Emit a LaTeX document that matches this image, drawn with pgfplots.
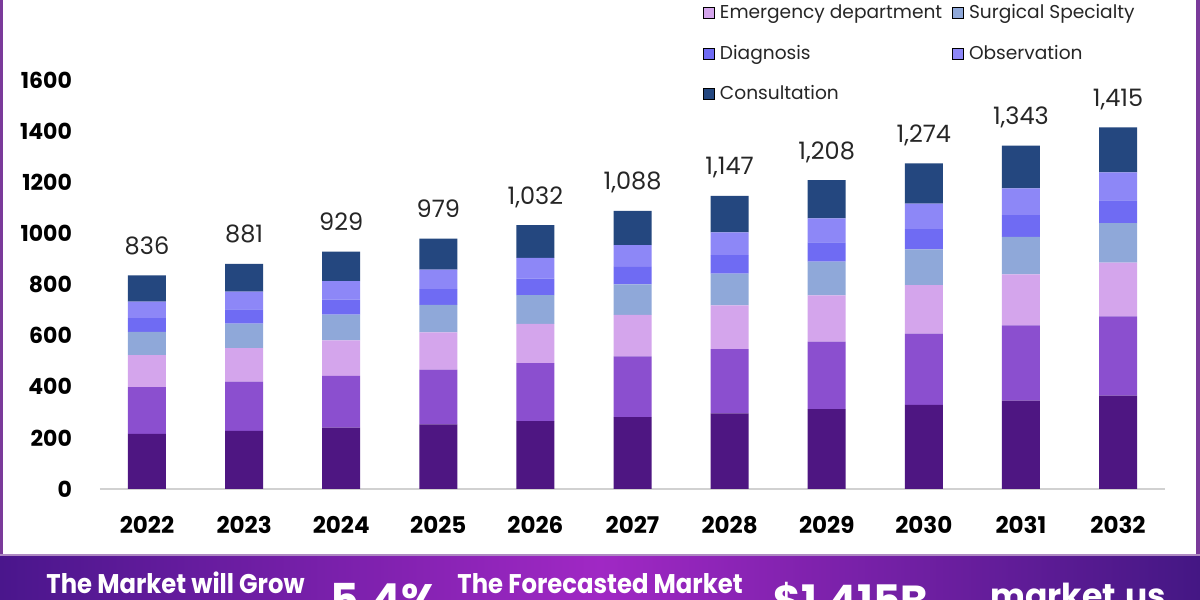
\documentclass[border=0pt]{standalone}
\usepackage{pgfplots}
\pgfplotsset{compat=1.18}
\usepackage{pgfplotstable}
\usepackage{graphicx}
\usepackage{fontspec}
\setmainfont{Poppins}

\definecolor{segA}{HTML}{4E1682}
\definecolor{segB}{HTML}{8B4FCF}
\definecolor{segC}{HTML}{D4A5EC}
\definecolor{segD}{HTML}{8FA8D9}
\definecolor{segE}{HTML}{6F6BF3}
\definecolor{segF}{HTML}{8D87F7}
\definecolor{segG}{HTML}{24477F}
\definecolor{banL}{HTML}{4A168C}
\definecolor{banM}{HTML}{A028C4}
\definecolor{banR}{HTML}{441784}
\definecolor{frameP}{HTML}{7A3A9A}

% segments bottom to top, total = value shown above bar
\pgfplotstableread{
x  a   b   c   d   e  f   g   total label
0  216 183 125 91  53 65  103 836   836
1  227 193 131 96  56 69  109 881   881
2  240 203 138 101 59 72  116 929   929
3  253 214 146 107 62 76  121 979   979
4  266 226 154 112 65 81  128 1032  1,032
5  281 238 162 119 69 85  134 1088  1,088
6  296 251 171 125 72 89  143 1147  1,147
7  312 265 180 132 76 94  149 1208  1,208
8  329 279 190 139 80 99  158 1274  1,274
9  346 294 200 146 85 105 167 1343  1,343
10 365 310 211 154 89 110 176 1415  1,415
}\data

\pgfplotsset{
  frame/.style={
    at={(50pt,55.5pt)}, anchor=south west,
    scale only axis, width=532.5pt, height=204.5pt,
    xmin=-0.484, xmax=10.484, ymin=0, ymax=1600,
    clip=false,
  },
}

\begin{document}
\begin{tikzpicture}[x=0.5pt,y=0.5pt]
\useasboundingbox (0,0) rectangle (1200,600);
\clip (0,0) rectangle (1200,600);
\fill[white] (0,0) rectangle (1200,600);

\begin{axis}[
  frame,
  ybar stacked, bar width=19pt,
  axis x line*=bottom, axis y line*=left,
  x axis line style={draw=black!18, line width=1pt},
  y axis line style={draw=none},
  major tick length=0pt,
  xtick={0,...,10},
  xticklabels={2022,2023,2024,2025,2026,2027,2028,2029,2030,2031,2032},
  ytick={0,200,...,1600},
  yticklabels={0,200,400,600,800,1000,1200,1400,1600},
  xticklabel style={font=\fontsize{11.5}{11.5}\selectfont\bfseries, yshift=-10pt},
  yticklabel style={font=\fontsize{11}{11}\selectfont\bfseries, xshift=-10.5pt},
]
\addplot[fill=segA, draw=none] table[x=x, y=a]{\data};
\addplot[fill=segB, draw=none] table[x=x, y=b]{\data};
\addplot[fill=segC, draw=none] table[x=x, y=c]{\data};
\addplot[fill=segD, draw=none] table[x=x, y=d]{\data};
\addplot[fill=segE, draw=none] table[x=x, y=e]{\data};
\addplot[fill=segF, draw=none] table[x=x, y=f]{\data};
\addplot[fill=segG, draw=none] table[x=x, y=g]{\data};
\end{axis}

% totals above the bars
\begin{axis}[frame, hide axis]
\addplot[only marks, mark=none,
  nodes near coords, point meta=explicit symbolic,
  nodes near coords style={anchor=base, yshift=10.5pt, inner sep=0pt,
    font=\fontsize{12}{12}\selectfont, text=black!85}]
  table[x=x, y=total, meta=label]{\data};
\end{axis}

% legend
\begin{axis}[
  frame, hide axis,
  legend columns=2,
  legend cell align=left,
  legend style={at={(0.566,1.1956)}, anchor=north west, draw=none, fill=none,
    inner sep=0pt, row sep=7.7pt,
    font=\fontsize{9.3}{9.3}\selectfont, text=black!85,
    /tikz/column 1/.style={column sep=0.5pt},
    /tikz/column 2/.style={column sep=3pt},
    /tikz/column 3/.style={column sep=0.5pt}},
  legend image code/.code={\fill[#1] (0pt,-2.75pt) rectangle (5.5pt,2.75pt);},
]
\addlegendimage{fill=segC}\addlegendentry{Emergency department}
\addlegendimage{fill=segD}\addlegendentry{Surgical Specialty}
\addlegendimage{fill=segE}\addlegendentry{Diagnosis}
\addlegendimage{fill=segF}\addlegendentry{Observation}
\addlegendimage{fill=segG}\addlegendentry{Consultation}
\end{axis}

% frame and bottom banner
\fill[frameP] (0,45) rectangle (3,600);
\fill[frameP] (1196,45) rectangle (1200,600);
\shade[left color=banL, right color=banR, middle color=banM] (0,0) rectangle (1200,45);
\draw[frameP!60, line width=1pt] (0,45) -- (1200,45);
\node[anchor=base west, text=white, inner sep=0pt] at (46,6)
  {\scalebox{0.9}[1]{\fontsize{13.5}{13.5}\selectfont\bfseries The Market will Grow}};
\node[anchor=base west, text=white, inner sep=0pt] at (330,-16)
  {\fontsize{22}{22}\selectfont\bfseries 5.4\%};
\node[anchor=base west, text=white, inner sep=0pt] at (457,6)
  {\scalebox{0.9}[1]{\fontsize{13.5}{13.5}\selectfont\bfseries The Forecasted Market}};
\node[anchor=base west, text=white, inner sep=0pt] at (773,-16)
  {\fontsize{21}{21}\selectfont\bfseries \$1,415B};
\node[anchor=base west, text=white, inner sep=0pt] at (990,-7)
  {\fontsize{16.5}{16.5}\selectfont\bfseries market.us};
\end{tikzpicture}
\end{document}
